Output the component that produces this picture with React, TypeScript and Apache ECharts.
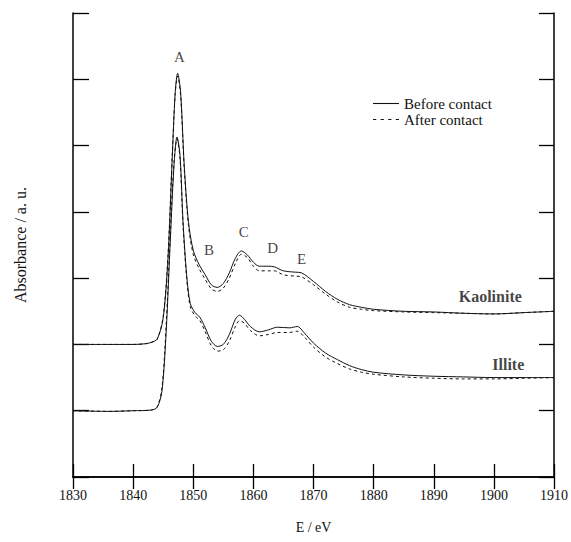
import React, { useEffect, useRef } from "react";
import * as echarts from "echarts";

const xTicks = [1830, 1840, 1850, 1860, 1870, 1880, 1890, 1900, 1910];

const kaolBeforeE = [1830, 1836, 1840, 1842, 1843, 1844, 1845, 1845.8, 1846.5, 1847.0, 1847.4, 1847.9, 1848.5, 1849.2, 1850, 1851, 1852, 1853, 1854, 1855, 1856, 1857, 1858, 1859, 1860, 1861, 1862.5, 1863.5, 1865, 1867, 1868, 1870, 1872, 1874, 1876, 1878, 1880, 1885, 1890, 1895, 1900, 1905, 1910];
const kaolBeforeV = [2.0, 2.0, 2.0, 2.01, 2.03, 2.08, 2.4, 3.3, 4.8, 5.8, 6.09, 5.8, 4.7, 3.85, 3.42, 3.2, 3.05, 2.9, 2.86, 2.92, 3.08, 3.3, 3.41, 3.35, 3.24, 3.18, 3.18, 3.17, 3.11, 3.09, 3.08, 2.95, 2.8, 2.68, 2.6, 2.56, 2.53, 2.5, 2.49, 2.47, 2.46, 2.48, 2.5];

const kaolAfterE = [1830, 1836, 1840, 1842, 1843, 1844, 1845, 1845.8, 1846.5, 1847.0, 1847.4, 1847.9, 1848.5, 1849.2, 1850, 1851, 1852, 1853, 1854, 1855, 1856, 1857, 1858, 1859, 1860, 1861, 1862.5, 1863.5, 1865, 1867, 1868, 1870, 1872, 1874, 1876, 1878, 1880, 1885, 1890, 1895, 1900, 1905, 1910];
const kaolAfterV = [2.0, 2.0, 2.0, 2.01, 2.03, 2.08, 2.42, 3.35, 4.85, 5.78, 6.05, 5.75, 4.65, 3.8, 3.36, 3.14, 2.98, 2.84, 2.8, 2.85, 3.0, 3.22, 3.36, 3.31, 3.18, 3.11, 3.11, 3.11, 3.05, 3.03, 3.02, 2.9, 2.76, 2.64, 2.56, 2.53, 2.51, 2.49, 2.48, 2.47, 2.46, 2.48, 2.5];

const illBeforeE = [1830, 1836, 1840, 1843, 1844, 1844.8, 1845.5, 1846.2, 1846.8, 1847.3, 1847.8, 1848.3, 1848.9, 1849.5, 1850.3, 1851.1, 1852, 1853, 1854, 1855, 1856, 1857, 1857.7, 1858.5, 1859.5, 1861, 1862.5, 1864, 1866, 1867.3, 1868.5, 1870, 1872, 1874, 1876, 1878, 1880, 1885, 1890, 1895, 1900, 1905, 1910];
const illBeforeV = [1.0, 0.99, 1.0, 1.01, 1.05, 1.3, 2.2, 3.6, 4.7, 5.13, 4.85, 3.85, 3.05, 2.62, 2.48, 2.41, 2.25, 2.05, 1.97, 2.0, 2.15, 2.38, 2.44, 2.38, 2.27, 2.19, 2.22, 2.26, 2.25, 2.27, 2.17, 2.02, 1.87, 1.77, 1.68, 1.62, 1.58, 1.54, 1.52, 1.51, 1.5, 1.5, 1.5];

const illAfterE = [1830, 1836, 1840, 1843, 1844, 1844.8, 1845.5, 1846.2, 1846.8, 1847.3, 1847.8, 1848.3, 1848.9, 1849.5, 1850.3, 1851.1, 1852, 1853, 1854, 1855, 1856, 1857, 1857.7, 1858.5, 1859.5, 1861, 1862.5, 1864, 1866, 1867.3, 1868.5, 1870, 1872, 1874, 1876, 1878, 1880, 1885, 1890, 1895, 1900, 1905, 1910];
const illAfterV = [1.0, 0.99, 1.0, 1.01, 1.06, 1.35, 2.3, 3.7, 4.75, 5.1, 4.8, 3.8, 3.0, 2.57, 2.43, 2.36, 2.19, 1.98, 1.9, 1.92, 2.05, 2.27, 2.36, 2.32, 2.21, 2.13, 2.15, 2.18, 2.18, 2.2, 2.11, 1.96, 1.81, 1.71, 1.63, 1.58, 1.55, 1.51, 1.49, 1.48, 1.48, 1.49, 1.5];

const peakLabels = ["A", "B", "C", "D", "E"];
const peakLabelE = [1847.7, 1852.6, 1858.4, 1863.2, 1868.0];
const peakLabelV = [6.33, 3.42, 3.7, 3.45, 3.29];

const sampleLabels = ["Kaolinite", "Illite"];
const sampleLabelE = [1899.4, 1902.4];
const sampleLabelV = [2.73, 1.7];

const legendNames = ["Before contact", "After contact"];

const SERIF = "'Liberation Serif', 'DejaVu Serif', serif";

function zip(xs: number[], ys: number[]) {
  return xs.map((x, i) => [x, ys[i]]);
}

export default function App() {
  const ref = useRef<HTMLDivElement>(null);
  useEffect(() => {
    if (!ref.current) return;
    const chart = echarts.init(ref.current, null, { renderer: "svg" });
    const lineBase = (name: string, data: number[][], dashed: boolean) => ({
      type: "line",
      name,
      data,
      symbol: "none",
      showSymbol: false,
      smooth: 0.3,
      lineStyle: { color: "#111", width: 1, type: dashed ? [3, 3] : "solid" },
      itemStyle: { color: "#111" },
      silent: true,
    });
    const axisLine = { show: true, lineStyle: { color: "#000", width: 1.5 } };
    const textLabel = (size: number, bold: boolean) => ({
      show: true,
      position: "inside",
      formatter: (p: any) => p.name,
      fontFamily: SERIF,
      fontSize: size,
      fontWeight: bold ? "bold" : "normal",
      color: "#111",
      textBorderWidth: 0,
    });
    chart.setOption({
      animation: false,
      backgroundColor: "#fff",
      grid: { left: 73, right: 16, top: 13, bottom: 65 },
      legend: {
        left: 368,
        top: 91,
        orient: "vertical",
        itemWidth: 26,
        itemHeight: 1.2,
        itemGap: 1,
        data: [
          { name: legendNames[0], icon: "path://M0,0h24v1h-24z" },
          { name: legendNames[1], icon: "path://M0,0h3v1h-3zM7,0h3v1h-3zM14,0h3v1h-3zM21,0h3v1h-3z" },
        ],
        itemStyle: { color: "#111", borderWidth: 0 },
        lineStyle: { width: 0 },
        textStyle: { fontFamily: SERIF, fontSize: 15, color: "#111" },
      },
      xAxis: [
        {
          type: "value",
          min: 1830,
          max: 1910,
          interval: 10,
          position: "bottom",
          axisLine,
          axisTick: { show: true, inside: true, length: 13, lineStyle: { color: "#000", width: 1.3 } },
          axisLabel: {
            margin: 11,
            fontFamily: SERIF,
            fontSize: 14,
            color: "#111",
            formatter: (v: number) => (xTicks.includes(v) ? String(v) : ""),
          },
          splitLine: { show: false },
          name: "E / eV",
          nameLocation: "middle",
          nameGap: 43,
          nameTextStyle: { fontFamily: SERIF, fontSize: 14, color: "#111" },
        },
        {
          type: "value",
          min: 1830,
          max: 1910,
          interval: 10,
          position: "top",
          axisLine,
          axisTick: { show: true, inside: true, length: 12, lineStyle: { color: "#000", width: 1.3 } },
          axisLabel: { show: false },
          splitLine: { show: false },
        },
      ],
      yAxis: [
        {
          type: "value",
          min: 0,
          max: 7,
          interval: 1,
          position: "left",
          axisLine,
          axisTick: { show: true, inside: true, length: 16, lineStyle: { color: "#000", width: 1.3 } },
          axisLabel: { show: false },
          splitLine: { show: false },
          name: "Absorbance / a. u.",
          nameLocation: "middle",
          nameGap: 45,
          nameRotate: 90,
          nameTextStyle: { fontFamily: SERIF, fontSize: 16, color: "#111" },
        },
        {
          type: "value",
          min: 0,
          max: 7,
          interval: 1,
          position: "right",
          axisLine,
          axisTick: { show: true, inside: true, length: 15, lineStyle: { color: "#000", width: 1.3 } },
          axisLabel: { show: false },
          splitLine: { show: false },
        },
      ],
      series: [
        lineBase(legendNames[0], zip(kaolBeforeE, kaolBeforeV), false),
        lineBase(legendNames[1], zip(kaolAfterE, kaolAfterV), true),
        lineBase(legendNames[0], zip(illBeforeE, illBeforeV), false),
        lineBase(legendNames[1], zip(illAfterE, illAfterV), true),
        {
          type: "scatter",
          name: "peaks",
          symbolSize: 0,
          silent: true,
          data: peakLabels.map((t, i) => ({ value: [peakLabelE[i], peakLabelV[i]], name: t })),
          label: textLabel(15, false),
        },
        {
          type: "scatter",
          name: "samples",
          symbolSize: 0,
          silent: true,
          data: sampleLabels.map((t, i) => ({ value: [sampleLabelE[i], sampleLabelV[i]], name: t })),
          label: textLabel(16, true),
        },
      ],
    });
    return () => chart.dispose();
  }, []);
  return (
    <div
      ref={ref}
      style={{ position: "fixed", left: 0, top: 0, width: 571, height: 542, background: "#fff" }}
    />
  );
}
